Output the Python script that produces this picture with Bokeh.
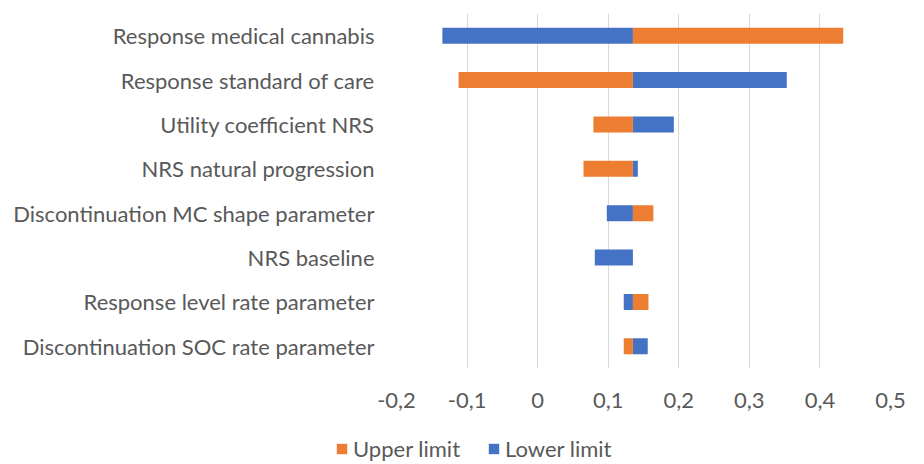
from bokeh.plotting import figure
from bokeh.layouts import column
from bokeh.models import ColumnDataSource, FixedTicker, Legend, LegendItem
from bokeh.embed import file_html
from bokeh.resources import INLINE

categories = [
    "Response medical cannabis",
    "Response standard of care",
    "Utility coefficient NRS",
    "NRS natural progression",
    "Discontinuation MC shape parameter",
    "NRS baseline",
    "Response level rate parameter",
    "Discontinuation SOC rate parameter",
]
base_value = 0.135
lower_limit = [-0.135, 0.353, 0.193, 0.142, 0.098, 0.081, 0.122, 0.156]
upper_limit = [0.433, -0.112, 0.079, 0.065, 0.164, 0.135, 0.157, 0.122]
tick_values = [-0.2, -0.1, 0.0, 0.1, 0.2, 0.3, 0.4, 0.5]
tick_labels = ["-0,2", "-0,1", "0", "0,1", "0,2", "0,3", "0,4", "0,5"]
legend_labels = ["Upper limit", "Lower limit"]

FONT = "Lato"
FS = "22px"
TXT = "#595959"
ORANGE = "#ED7D31"
BLUE = "#4472C4"

src = ColumnDataSource(dict(
    cat=categories,
    base=[base_value] * len(categories),
    lower=lower_limit,
    upper=upper_limit,
))

p = figure(
    width=916, height=420,
    y_range=list(reversed(categories)),
    x_range=(tick_values[0], tick_values[-1]),
    output_backend="svg", toolbar_location=None,
    min_border_left=396, min_border_right=26, min_border_top=13, min_border_bottom=52,
)
p.frame_align = False
p.outline_line_color = None

p.hbar(y="cat", left="base", right="lower", height=0.36, source=src,
       fill_color=BLUE, line_color=None)
p.hbar(y="cat", left="base", right="upper", height=0.36, source=src,
       fill_color=ORANGE, line_color=None)

p.xaxis.ticker = FixedTicker(ticks=tick_values)
p.xaxis.major_label_overrides = {v: l for v, l in zip(tick_values, tick_labels)}
p.xaxis.axis_line_color = None
p.xaxis.major_tick_line_color = None
p.xaxis.minor_tick_line_color = None
p.xaxis.major_label_text_font = FONT
p.xaxis.major_label_text_font_size = FS
p.xaxis.major_label_text_color = TXT
p.xaxis.major_label_standoff = 18

p.yaxis.axis_line_color = None
p.yaxis.major_tick_line_color = None
p.yaxis.minor_tick_line_color = None
p.yaxis.major_label_text_font = FONT
p.yaxis.major_label_text_font_size = FS
p.yaxis.major_label_text_color = TXT
p.yaxis.major_label_standoff = 16

p.xgrid.grid_line_color = "#d9d9d9"
p.xgrid.grid_line_width = 1
p.ygrid.grid_line_color = None

# legend strip below the chart
lg = figure(width=916, height=44, output_backend="svg", toolbar_location=None,
            y_range=list(reversed(categories)),
            x_range=(tick_values[0], tick_values[-1]),
            x_axis_type=None, y_axis_type=None,
            min_border_left=0, min_border_right=0, min_border_top=0, min_border_bottom=0)
lg.frame_align = False
lg.outline_line_color = None
lg.xgrid.grid_line_color = None
lg.ygrid.grid_line_color = None
g_up = lg.hbar(y="cat", left="base", right="upper", height=0.36, source=src,
               fill_color=ORANGE, line_color=None, visible=False)
g_low = lg.hbar(y="cat", left="base", right="lower", height=0.36, source=src,
                fill_color=BLUE, line_color=None, visible=False)

legend = Legend(
    items=[LegendItem(label=legend_labels[0], renderers=[g_up]),
           LegendItem(label=legend_labels[1], renderers=[g_low])],
    orientation="horizontal", location=(335, 2),
    label_text_font=FONT, label_text_font_size=FS, label_text_color=TXT,
    glyph_width=13, glyph_height=13, spacing=27, label_standoff=5,
    border_line_color=None, background_fill_alpha=0, margin=0, padding=0,
)
lg.add_layout(legend, "center")

layout = column(p, lg, spacing=0)
open("out.html", "w").write(file_html(layout, INLINE))
